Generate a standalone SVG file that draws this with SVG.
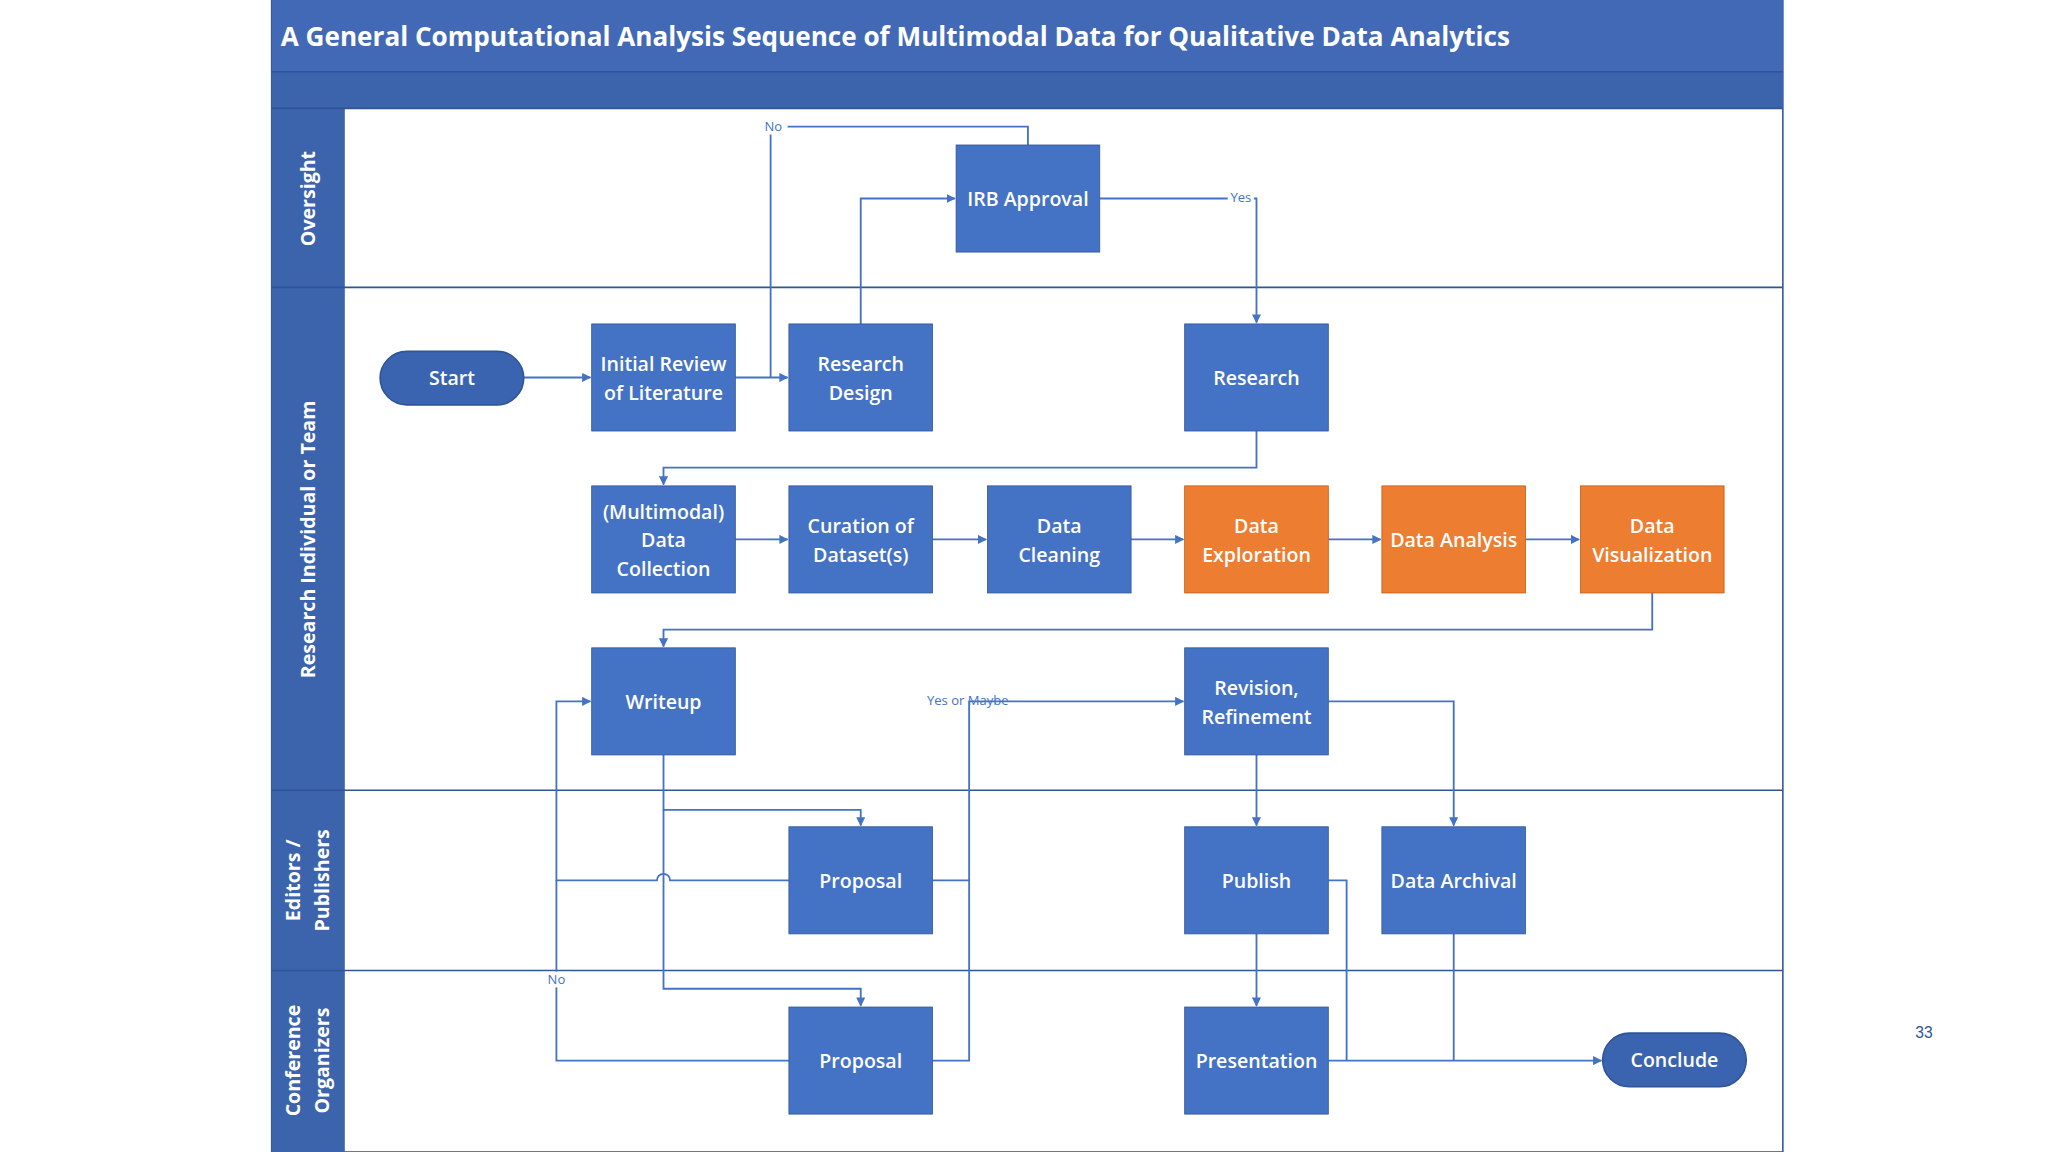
<svg xmlns="http://www.w3.org/2000/svg" width="2048" height="1152" viewBox="0 0 2048 1152">
<defs>
<marker id="a" viewBox="0 0 10 10" refX="9" refY="5" markerWidth="7" markerHeight="7" markerUnits="userSpaceOnUse" orient="auto"><path d="M0,0L10,5L0,10z" fill="#4472C4"/></marker>
<style>
.n{fill:#4472C4;stroke:#2F5597;stroke-width:0.6}
.o{fill:#ED7D31;stroke:#C55A11;stroke-width:0.6}
.p{fill:#3A64B0;stroke:#2F5597;stroke-width:1.2}
.t{fill:#fff;font-family:"Open Sans",sans-serif;font-weight:600;font-size:15px;text-anchor:middle}
.l{fill:#fff;font-family:"Open Sans",sans-serif;font-weight:700;font-size:15px;text-anchor:middle}
.c{fill:none;stroke:#4472C4;stroke-width:1.4}
.s{font-family:"Open Sans",sans-serif;font-size:10px;fill:#4472C4;text-anchor:middle}
.ln{stroke:#2F5597;stroke-width:1.2}
</style>
</defs>
<rect width="2048" height="1152" fill="#fff"/>
<g transform="scale(1.30612)">
<g id="frame">
<rect x="208" y="0" width="1157" height="882" fill="#fff" stroke="#2F5597" stroke-width="1.2"/>
<rect x="208" y="0" width="1157" height="55" fill="#4169B5"/>
<rect x="208" y="55" width="1157" height="28" fill="#3C64AD"/>
<line x1="208" y1="55" x2="1365" y2="55" class="ln"/>
<rect x="208" y="83" width="56" height="799" fill="#3C64AD"/>
<line x1="208" y1="83" x2="1365" y2="83" class="ln"/>
<line x1="208" y1="220" x2="1365" y2="220" class="ln"/>
<line x1="208" y1="605" x2="1365" y2="605" class="ln"/>
<line x1="208" y1="743" x2="1365" y2="743" class="ln"/>
<text x="215" y="35" fill="#fff" font-family="'Open Sans',sans-serif" font-weight="700" font-size="20">A General Computational Analysis Sequence of Multimodal Data for Qualitative Data Analytics</text>
<text class="l" transform="translate(241,152) rotate(-90)">Oversight</text>
<text class="l" transform="translate(241,413) rotate(-90)">Research Individual or Team</text>
<text class="l" transform="translate(230,674) rotate(-90)">Editors /</text>
<text class="l" transform="translate(252,674) rotate(-90)">Publishers</text>
<text class="l" transform="translate(230,812) rotate(-90)">Conference</text>
<text class="l" transform="translate(252,812) rotate(-90)">Organizers</text>
</g>
<g id="connectors">
<path class="c" d="M401,289H452" marker-end="url(#a)"/>
<path class="c" d="M563,289H603" marker-end="url(#a)"/>
<path class="c" d="M787,111V97H590V289"/>
<path class="c" d="M659,248V152H731" marker-end="url(#a)"/>
<path class="c" d="M842,152H962V247" marker-end="url(#a)"/>
<path class="c" d="M962,330V358H508V371" marker-end="url(#a)"/>
<path class="c" d="M563,413H603" marker-end="url(#a)"/>
<path class="c" d="M714,413H755" marker-end="url(#a)"/>
<path class="c" d="M866,413H906" marker-end="url(#a)"/>
<path class="c" d="M1017,413H1057" marker-end="url(#a)"/>
<path class="c" d="M1168,413H1209" marker-end="url(#a)"/>
<path class="c" d="M1265,454V482H508V495" marker-end="url(#a)"/>
<path class="c" d="M508,578V620H659V632" marker-end="url(#a)"/>
<path class="c" d="M508,620V757H659V770" marker-end="url(#a)"/>
<path class="c" d="M604,674H513A5,5 0 0 0 503,674H426V537H452" marker-end="url(#a)"/>
<path class="c" d="M604,812H426V674"/>
<path class="c" d="M714,674H742"/>
<path class="c" d="M714,812H742V537H906" marker-end="url(#a)"/>
<path class="c" d="M962,578V632" marker-end="url(#a)"/>
<path class="c" d="M1017,537H1113V632" marker-end="url(#a)"/>
<path class="c" d="M962,715V770" marker-end="url(#a)"/>
<path class="c" d="M1017,674H1031V812"/>
<path class="c" d="M1017,812H1226" marker-end="url(#a)"/>
<path class="c" d="M1113,715V812"/>
<rect x="581" y="91" width="22" height="12" fill="#fff"/><text class="s" x="592" y="100">No</text>
<rect x="940" y="146" width="20" height="12" fill="#fff"/><text class="s" x="950" y="155">Yes</text>
<rect x="415" y="744" width="22" height="12" fill="#fff"/><text class="s" x="426" y="753">No</text>
<text class="s" x="741" y="540">Yes or Maybe</text>
</g>
<g id="start"><rect class="p" x="291" y="269" width="110" height="41" rx="20.5"/><text class="t" x="346" y="295">Start</text></g>
<g id="initial"><rect class="n" x="453" y="248" width="110" height="82"/><text class="t" x="508" y="284">Initial Review</text><text class="t" x="508" y="306">of Literature</text></g>
<g id="design"><rect class="n" x="604" y="248" width="110" height="82"/><text class="t" x="659" y="284">Research</text><text class="t" x="659" y="306">Design</text></g>
<g id="irb"><rect class="n" x="732" y="111" width="110" height="82"/><text class="t" x="787" y="158">IRB Approval</text></g>
<g id="research"><rect class="n" x="907" y="248" width="110" height="82"/><text class="t" x="962" y="295">Research</text></g>
<g id="collection"><rect class="n" x="453" y="372" width="110" height="82"/><text class="t" x="508" y="397">(Multimodal)</text><text class="t" x="508" y="419">Data</text><text class="t" x="508" y="441">Collection</text></g>
<g id="curation"><rect class="n" x="604" y="372" width="110" height="82"/><text class="t" x="659" y="408">Curation of</text><text class="t" x="659" y="430">Dataset(s)</text></g>
<g id="cleaning"><rect class="n" x="756" y="372" width="110" height="82"/><text class="t" x="811" y="408">Data</text><text class="t" x="811" y="430">Cleaning</text></g>
<g id="exploration"><rect class="o" x="907" y="372" width="110" height="82"/><text class="t" x="962" y="408">Data</text><text class="t" x="962" y="430">Exploration</text></g>
<g id="analysis"><rect class="o" x="1058" y="372" width="110" height="82"/><text class="t" x="1113" y="419">Data Analysis</text></g>
<g id="visualization"><rect class="o" x="1210" y="372" width="110" height="82"/><text class="t" x="1265" y="408">Data</text><text class="t" x="1265" y="430">Visualization</text></g>
<g id="writeup"><rect class="n" x="453" y="496" width="110" height="82"/><text class="t" x="508" y="543">Writeup</text></g>
<g id="revision"><rect class="n" x="907" y="496" width="110" height="82"/><text class="t" x="962" y="532">Revision,</text><text class="t" x="962" y="554">Refinement</text></g>
<g id="proposal1"><rect class="n" x="604" y="633" width="110" height="82"/><text class="t" x="659" y="680">Proposal</text></g>
<g id="publish"><rect class="n" x="907" y="633" width="110" height="82"/><text class="t" x="962" y="680">Publish</text></g>
<g id="archival"><rect class="n" x="1058" y="633" width="110" height="82"/><text class="t" x="1113" y="680">Data Archival</text></g>
<g id="proposal2"><rect class="n" x="604" y="771" width="110" height="82"/><text class="t" x="659" y="818">Proposal</text></g>
<g id="presentation"><rect class="n" x="907" y="771" width="110" height="82"/><text class="t" x="962" y="818">Presentation</text></g>
<g id="conclude"><rect class="p" x="1227" y="791" width="110" height="41" rx="20.5"/><text class="t" x="1282" y="817">Conclude</text></g>
<text x="1473" y="795" font-family="'Liberation Sans',sans-serif" font-size="12" fill="#2F5597" text-anchor="middle">33</text>
</g>
</svg>
